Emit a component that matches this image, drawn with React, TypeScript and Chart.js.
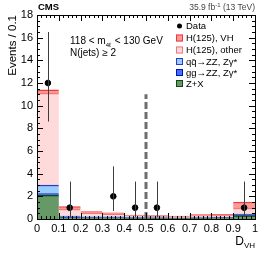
import React, { useEffect, useRef } from "react";
import { Chart, registerables } from "chart.js";

Chart.register(...registerables);

const binLabels = ["0.05", "0.15", "0.25", "0.35", "0.45", "0.55", "0.65", "0.75", "0.85", "0.95"];
const zx = [2.1, 0.1, 0.1, 0.1, 0.08, 0.07, 0.06, 0.08, 0.1, 0.3];
const ggzz = [0.15, 0.05, 0.03, 0.03, 0.02, 0.02, 0.02, 0.03, 0.03, 0.08];
const qqzz = [0.75, 0.1, 0.07, 0.06, 0.05, 0.04, 0.03, 0.04, 0.05, 0.06];
const hOther = [8.1, 0.63, 0.35, 0.26, 0.12, 0.1, 0.07, 0.12, 0.12, 0.53];
const hVH = [0.3, 0.22, 0.1, 0.1, 0.08, 0.07, 0.07, 0.11, 0.12, 0.53];
const dataCounts = [12, 1, 0, 2, 1, 1, 0, 0, 0, 1];
const dataErrLow = [3.4, 0.83, 0, 1.29, 0.83, 0.83, 0, 0, 0, 0.83];
const dataErrHigh = [4.5, 2.3, 0, 2.64, 2.3, 2.3, 0, 0, 0, 2.3];
const cutValue = 0.5;
const cutTop = 11;
const yTicksMax = 18;

const FONT = "'Liberation Sans', Arial, Helvetica, sans-serif";

const colors = {
  vh: { fill: "rgb(255,153,153)", line: "rgb(235,60,60)" },
  other: { fill: "rgb(255,218,218)", line: "rgb(240,120,120)" },
  qq: { fill: "rgb(153,204,255)", line: "rgb(40,60,200)" },
  gg: { fill: "rgb(70,110,255)", line: "rgb(0,20,180)" },
  zx: { fill: "rgb(102,153,102)", line: "rgb(20,70,20)" },
};

export default function App() {
  const ref = useRef<HTMLCanvasElement>(null);
  useEffect(() => {
    document.body.style.margin = "0";
    const canvas = ref.current!;
    const bar = (label: string, data: number[], c: { fill: string; line: string }) => ({
      type: "bar" as const,
      label,
      data,
      backgroundColor: c.fill,
      borderColor: c.line,
      borderWidth: { top: 1.5, left: 0, right: 0, bottom: 0 },
      borderSkipped: false,
      barPercentage: 1,
      categoryPercentage: 1,
      stack: "s",
      xAxisID: "x",
    });

    const decor = {
      id: "decor",
      afterDatasetsDraw(chart: any) {
        const ctx = chart.ctx as CanvasRenderingContext2D;
        const xs = chart.scales.x2;
        const ys = chart.scales.y;
        const xc = chart.scales.x;
        const a = chart.chartArea;
        ctx.save();
        // dashed cut line
        ctx.strokeStyle = "rgb(110,110,110)";
        ctx.lineWidth = 3;
        ctx.setLineDash([7, 3]);
        ctx.beginPath();
        ctx.moveTo(xs.getPixelForValue(cutValue), ys.getPixelForValue(0));
        ctx.lineTo(xs.getPixelForValue(cutValue), ys.getPixelForValue(cutTop));
        ctx.stroke();
        ctx.setLineDash([]);
        // error bars
        ctx.strokeStyle = "rgb(60,60,60)";
        ctx.lineWidth = 1;
        dataCounts.forEach((n, i) => {
          if (!n) return;
          const px = Math.round(xc.getPixelForValue(i)) + 0.5;
          ctx.beginPath();
          ctx.moveTo(px, ys.getPixelForValue(n - dataErrLow[i]));
          ctx.lineTo(px, ys.getPixelForValue(n + dataErrHigh[i]));
          ctx.stroke();
        });
        // frame
        ctx.strokeStyle = "#000";
        ctx.lineWidth = 1;
        ctx.strokeRect(Math.round(a.left) + 0.5, Math.round(a.top) + 0.5, Math.round(a.right - a.left), Math.round(a.bottom - a.top));
        // ticks
        ctx.beginPath();
        for (let k = 0; k <= 50; k++) {
          const v = k / 50;
          const px = Math.round(xs.getPixelForValue(v)) + 0.5;
          const len = k % 5 === 0 ? 6 : 3;
          ctx.moveTo(px, a.bottom);
          ctx.lineTo(px, a.bottom - len);
          ctx.moveTo(px, a.top);
          ctx.lineTo(px, a.top + len);
        }
        for (let k = 0; k <= yTicksMax * 2; k++) {
          const v = k / 2;
          const py = Math.round(ys.getPixelForValue(v)) + 0.5;
          const len = k % 4 === 0 ? 6 : 3;
          ctx.moveTo(a.left, py);
          ctx.lineTo(a.left + len, py);
          ctx.moveTo(a.right, py);
          ctx.lineTo(a.right - len, py);
        }
        ctx.stroke();

        ctx.fillStyle = "#000";
        // CMS label
        ctx.textBaseline = "alphabetic";
        ctx.textAlign = "left";
        ctx.font = `bold 9.5px ${FONT}`;
        ctx.fillText("CMS", a.left + 1, 10);
        // lumi
        const t1 = "35.9 fb";
        const t2 = "-1";
        const t3 = " (13 TeV)";
        ctx.font = `8.5px ${FONT}`;
        const w1 = ctx.measureText(t1).width;
        const w3 = ctx.measureText(t3).width;
        ctx.font = `6px ${FONT}`;
        const w2 = ctx.measureText(t2).width;
        const x0 = a.right - (w1 + w2 + w3);
        ctx.fillStyle = "#444";
        ctx.font = `8.5px ${FONT}`;
        ctx.fillText(t1, x0, 10);
        ctx.font = `6px ${FONT}`;
        ctx.fillText(t2, x0 + w1, 6.5);
        ctx.font = `8.5px ${FONT}`;
        ctx.fillText(t3, x0 + w1 + w2, 10);
        ctx.fillStyle = "#000";

        // annotation
        ctx.font = `10px ${FONT}`;
        let tx = 70;
        const s1 = "118 < m";
        ctx.fillText(s1, tx, 44);
        tx += ctx.measureText(s1).width;
        ctx.font = `6px ${FONT}`;
        ctx.fillText("4ℓ", tx, 47);
        tx += ctx.measureText("4ℓ").width + 1;
        ctx.font = `10px ${FONT}`;
        ctx.fillText(" < 130 GeV", tx, 44);
        ctx.fillText("N(jets) ≥ 2", 70, 56);

        // legend
        const lx = 176;
        const rows: [string, any, number][] = [
          ["Data", null, 26],
          ["H(125), VH", colors.vh, 38],
          ["H(125), other", colors.other, 50],
          ["qq̄→ZZ, Zγ*", colors.qq, 61.5],
          ["gg→ZZ, Zγ*", colors.gg, 72.5],
          ["Z+X", colors.zx, 83.5],
        ];
        ctx.font = `9.5px ${FONT}`;
        ctx.textBaseline = "middle";
        rows.forEach(([t, c, y]) => {
          if (!c) {
            ctx.beginPath();
            ctx.arc(lx + 3.5, y, 2.5, 0, Math.PI * 2);
            ctx.fillStyle = "#000";
            ctx.fill();
          } else {
            ctx.fillStyle = c.fill;
            ctx.fillRect(lx, y - 3.5, 7, 7);
            ctx.strokeStyle = c.line;
            ctx.lineWidth = 1;
            ctx.strokeRect(lx + 0.5, y - 3.5 + 0.5, 6, 6);
          }
          ctx.fillStyle = "#000";
          ctx.fillText(t, lx + 10, y + 0.5);
        });

        // y title
        ctx.save();
        ctx.translate(16, a.top);
        ctx.rotate(-Math.PI / 2);
        ctx.textAlign = "right";
        ctx.textBaseline = "alphabetic";
        ctx.font = `11.5px ${FONT}`;
        ctx.fillText("Events / 0.1", 0, 0);
        ctx.restore();

        // x title
        ctx.textBaseline = "alphabetic";
        ctx.textAlign = "left";
        ctx.font = `8px ${FONT}`;
        const wv = ctx.measureText("VH").width;
        ctx.font = `12px ${FONT}`;
        const wd = ctx.measureText("D").width;
        const xt = a.right - wv - wd;
        ctx.fillText("D", xt, 245);
        ctx.font = `8px ${FONT}`;
        ctx.fillText("VH", xt + wd, 248);
        ctx.restore();
      },
    };

    const chart = new Chart(canvas, {
      data: {
        labels: binLabels,
        datasets: [
          {
            type: "line" as const,
            label: "Data",
            data: dataCounts.map((n) => (n > 0 ? n : null)),
            showLine: false,
            pointRadius: 2.8,
            pointBackgroundColor: "#000",
            pointBorderColor: "#000",
            xAxisID: "x",
            order: -1,
          } as any,
          bar("Z+X", zx, colors.zx),
          bar("gg→ZZ, Zγ*", ggzz, colors.gg),
          bar("qq̄→ZZ, Zγ*", qqzz, colors.qq),
          bar("H(125), other", hOther, colors.other),
          bar("H(125), VH", hVH, colors.vh),
        ],
      },
      options: {
        animation: false,
        responsive: false,
        devicePixelRatio: 1,
        layout: { padding: { left: 0, right: 11, top: 15, bottom: 0 } },
        plugins: { legend: { display: false }, tooltip: { enabled: false } },
        scales: {
          x: { type: "category", display: false, stacked: true, offset: true },
          x2: {
            type: "linear",
            position: "bottom",
            min: 0,
            max: 1,
            grid: { display: false, drawTicks: false },
            border: { display: false },
            ticks: {
              stepSize: 0.1,
              padding: 3,
              maxRotation: 0,
              autoSkip: false,
              color: "#000",
              font: { family: FONT, size: 11 },
              callback: (v: any) => {
                const n = Number(v);
                if (Math.abs(n) < 1e-9) return "0";
                if (Math.abs(n - 1) < 1e-9) return "1";
                return n.toFixed(1);
              },
            },
            afterFit: (s: any) => {
              s.height = 34;
            },
          },
          y: {
            stacked: true,
            min: 0,
            max: yTicksMax,
            grid: { display: false, drawTicks: false },
            border: { display: false },
            ticks: {
              stepSize: 2,
              padding: 4,
              color: "#000",
              font: { family: FONT, size: 11 },
            },
            afterFit: (s: any) => {
              s.width = 37;
            },
          },
        },
      } as any,
      plugins: [decor],
    });
    return () => chart.destroy();
  }, []);
  return <canvas ref={ref} width={266} height={253} style={{ display: "block" }} />;
}
